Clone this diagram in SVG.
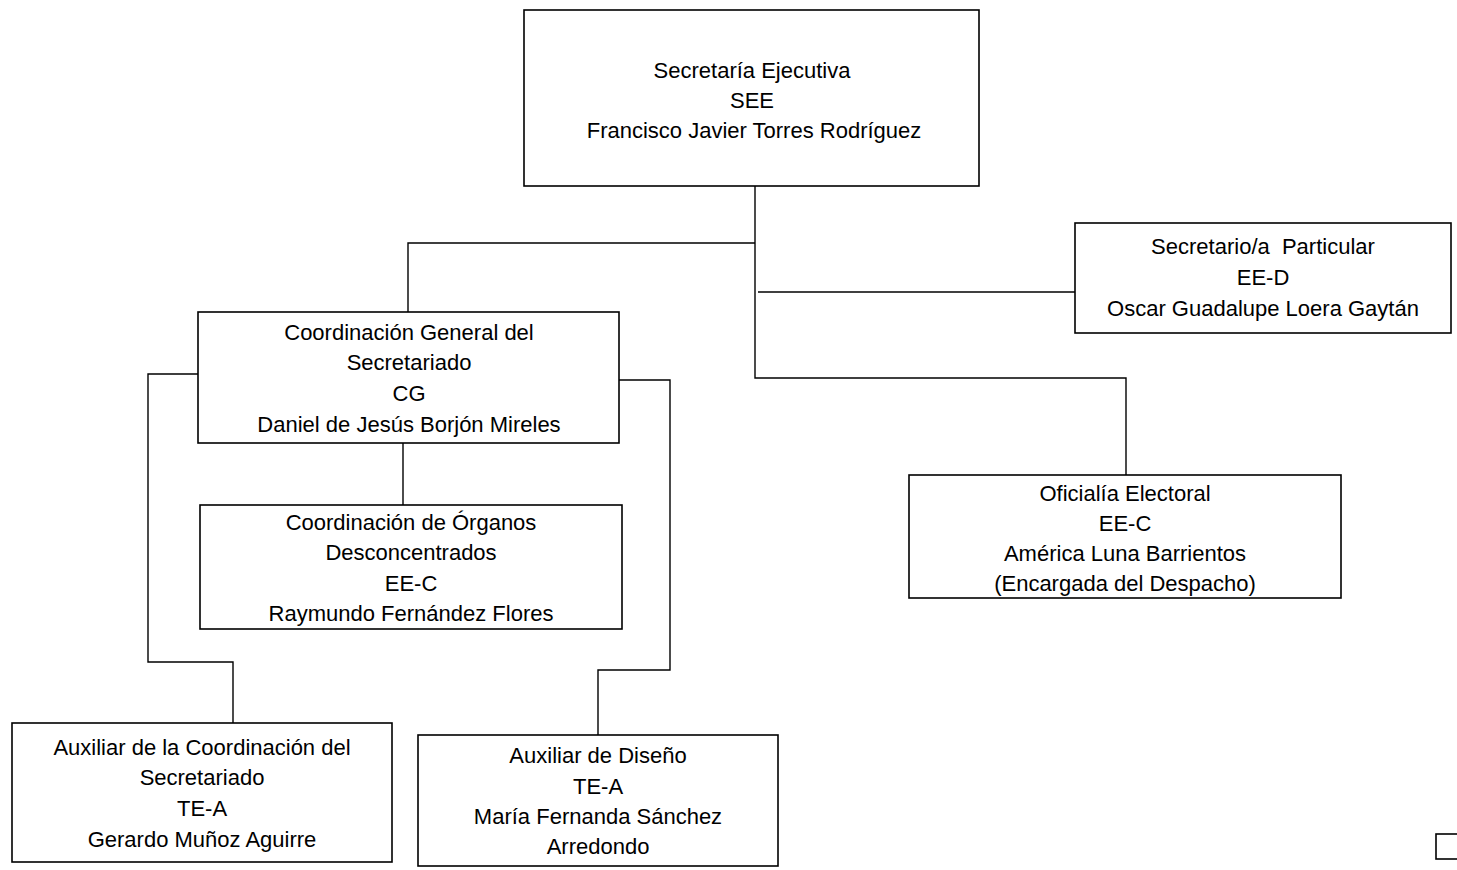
<svg xmlns="http://www.w3.org/2000/svg" width="1457" height="870" viewBox="0 0 1457 870">
<style>
.box{fill:#fff;stroke:#000;stroke-width:1.6}
.t{font-family:"Liberation Sans",Arial,sans-serif;font-size:22px;fill:#000;text-anchor:middle}
.c{fill:none;stroke:#000;stroke-width:1.4}
</style>
<rect width="1457" height="870" fill="#fff"/>
<g id="connectors">
<path class="c" d="M755 186 V378 H1126 V475"/>
<path class="c" d="M755 243 H408 V312"/>
<path class="c" d="M758 292 H1075"/>
<path class="c" d="M403 443 V505"/>
<path class="c" d="M198 374 H148 V662 H233 V723"/>
<path class="c" d="M619 380 H670 V670 H598 V735"/>
</g>
<g id="see">
<rect class="box" x="524" y="10" width="455" height="176"/>
<text class="t" x="752" y="78">Secretaría Ejecutiva</text>
<text class="t" x="752" y="108">SEE</text>
<text class="t" x="754" y="138">Francisco Javier Torres Rodríguez</text>
</g>
<g id="particular">
<rect class="box" x="1075" y="223" width="376" height="110"/>
<text class="t" x="1263" y="254">Secretario/a&#160; Particular</text>
<text class="t" x="1263" y="285">EE-D</text>
<text class="t" x="1263" y="316">Oscar Guadalupe Loera Gaytán</text>
</g>
<g id="cg">
<rect class="box" x="198" y="312" width="421" height="131"/>
<text class="t" x="409" y="340">Coordinación General del</text>
<text class="t" x="409" y="370">Secretariado</text>
<text class="t" x="409" y="401">CG</text>
<text class="t" x="409" y="432">Daniel de Jesús Borjón Mireles</text>
</g>
<g id="organos">
<rect class="box" x="200" y="505" width="422" height="124"/>
<text class="t" x="411" y="530">Coordinación de Órganos</text>
<text class="t" x="411" y="560">Desconcentrados</text>
<text class="t" x="411" y="591">EE-C</text>
<text class="t" x="411" y="621">Raymundo Fernández Flores</text>
</g>
<g id="oficialia">
<rect class="box" x="909" y="475" width="432" height="123"/>
<text class="t" x="1125" y="501">Oficialía Electoral</text>
<text class="t" x="1125" y="531">EE-C</text>
<text class="t" x="1125" y="561">América Luna Barrientos</text>
<text class="t" x="1125" y="591">(Encargada del Despacho)</text>
</g>
<g id="aux-coord">
<rect class="box" x="12" y="723" width="380" height="139"/>
<text class="t" x="202" y="755">Auxiliar de la Coordinación del</text>
<text class="t" x="202" y="785">Secretariado</text>
<text class="t" x="202" y="816">TE-A</text>
<text class="t" x="202" y="847">Gerardo Muñoz Aguirre</text>
</g>
<g id="aux-diseno">
<rect class="box" x="418" y="735" width="360" height="131"/>
<text class="t" x="598" y="763">Auxiliar de Diseño</text>
<text class="t" x="598" y="794">TE-A</text>
<text class="t" x="598" y="824">María Fernanda Sánchez</text>
<text class="t" x="598" y="854">Arredondo</text>
</g>
<rect class="box" x="1436" y="834" width="30" height="25"/>
</svg>
